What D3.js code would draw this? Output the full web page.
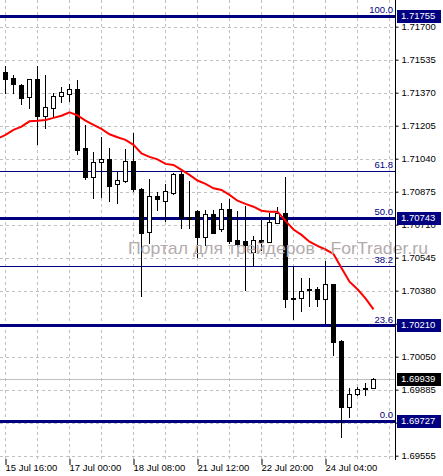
<!DOCTYPE html>
<html>
<head>
<meta charset="utf-8">
<script src="https://cdn.jsdelivr.net/npm/d3@7"></script>
<style>
  body { margin: 0; background: #fff; }
  svg { display: block; }
</style>
</head>
<body>
<script>
// donnees (H4)
var opens  = [1.71472, 1.71444, 1.71409, 1.71350, 1.71439, 1.71255, 1.71295, 1.71355, 1.71365, 1.71389,
              1.71092, 1.70950, 1.71022, 1.71037, 1.70912, 1.70930, 1.71029, 1.70889, 1.70672, 1.70854,
              1.70830, 1.70867, 1.70964, 1.70749, 1.70779, 1.70649, 1.70762, 1.70689, 1.70787, 1.70634,
              1.70626, 1.70576, 1.70634, 1.70625, 1.70720, 1.70770, 1.70345, 1.70342, 1.70389, 1.70389,
              1.70337, 1.70412, 1.70127, 1.69800, 1.69864, 1.69894, 1.69892];
var highs  = [1.71504, 1.71459, 1.71414, 1.71439, 1.71504, 1.71459, 1.71367, 1.71397, 1.71412, 1.71434,
              1.71209, 1.71072, 1.71147, 1.71092, 1.70980, 1.71087, 1.71170, 1.70895, 1.70937, 1.70875,
              1.70914, 1.70970, 1.70972, 1.70930, 1.70784, 1.70784, 1.70784, 1.70817, 1.70837, 1.70779,
              1.70804, 1.70654, 1.70734, 1.70769, 1.70797, 1.70950, 1.70504, 1.70442, 1.70442, 1.70399,
              1.70530, 1.70414, 1.70134, 1.69892, 1.69900, 1.69917, 1.69942];
var lows   = [1.71370, 1.71370, 1.71314, 1.71295, 1.71112, 1.71195, 1.71250, 1.71325, 1.71329, 1.71065,
              1.70939, 1.70845, 1.70850, 1.70830, 1.70820, 1.70924, 1.70880, 1.70355, 1.70620, 1.70784,
              1.70729, 1.70864, 1.70692, 1.70694, 1.70549, 1.70609, 1.70669, 1.70681, 1.70620, 1.70606,
              1.70384, 1.70509, 1.70584, 1.70622, 1.70717, 1.70300, 1.70239, 1.70279, 1.70304, 1.70304,
              1.70214, 1.70057, 1.69650, 1.69750, 1.69859, 1.69859, 1.69892];
var closes = [1.71440, 1.71414, 1.71345, 1.71436, 1.71255, 1.71297, 1.71355, 1.71372, 1.71389, 1.71085,
              1.70950, 1.71022, 1.71040, 1.70905, 1.70932, 1.71027, 1.70889, 1.70670, 1.70854, 1.70839,
              1.70877, 1.70964, 1.70742, 1.70739, 1.70649, 1.70762, 1.70671, 1.70787, 1.70629, 1.70611,
              1.70609, 1.70631, 1.70621, 1.70725, 1.70770, 1.70337, 1.70337, 1.70380, 1.70384, 1.70337,
              1.70412, 1.70125, 1.69800, 1.69862, 1.69889, 1.69889, 1.69939];

// moyenne mobile (commence une bougie avant l'ecran)
var maValues = [1.71140, 1.71159, 1.71184, 1.71200, 1.71227, 1.71230, 1.71234, 1.71244, 1.71255, 1.71272,
                1.71257, 1.71230, 1.71209, 1.71189, 1.71162, 1.71147, 1.71134, 1.71109, 1.71066, 1.71049,
                1.71037, 1.71014, 1.71009, 1.70984, 1.70959, 1.70931, 1.70914, 1.70892, 1.70884, 1.70859,
                1.70830, 1.70814, 1.70800, 1.70780, 1.70775, 1.70775, 1.70729, 1.70686, 1.70659, 1.70625,
                1.70604, 1.70586, 1.70564, 1.70494, 1.70425, 1.70387, 1.70342, 1.70287];

var priceTicks = [1.71700, 1.71535, 1.71370, 1.71205, 1.71040, 1.70875, 1.70710,
                  1.70545, 1.70380, 1.70215, 1.70050, 1.69885, 1.69720, 1.69555];
var timeIdx = [0, 8, 16, 24, 32, 40];
var timeLabels = ["15 Jul 16:00", "17 Jul 00:00", "18 Jul 08:00", "21 Jul 12:00", "22 Jul 20:00", "24 Jul 04:00"];

var fibPrices = [1.71755, 1.70980, 1.70741, 1.70502, 1.70206, 1.69727];
var fibNames = ["100.0", "61.8", "50.0", "38.2", "23.6", "0.0"];
var thickLines = [1.71755, 1.70743, 1.70210, 1.69727];
var boxPrices = [1.71755, 1.70743, 1.70210, 1.69727, 1.69939];
var currentPrice = 1.69939;

var width = 443, height = 476;
var plotW = 395, plotH = 459;
var navy = "#000080";
var font = "'Liberation Sans', Arial, sans-serif";

var svg = d3.select("body").append("svg")
    .attr("width", width)
    .attr("height", height);

var x = d3.scaleLinear().domain([0, 46]).range([5, 373]);
var y = d3.scaleLinear().domain([1.69555, 1.71700]).range([455.7, 26.7]);

svg.append("clipPath").attr("id", "plot")
    .append("rect").attr("width", plotW).attr("height", plotH);

var plot = svg.append("g").attr("clip-path", "url(#plot)");

// grille
var gridIdx = d3.range(0, 49, 4);
plot.selectAll(".vgrid").data(gridIdx).enter().append("line")
    .attr("x1", function (d) { return x(d) + 0.5; })
    .attr("x2", function (d) { return x(d) + 0.5; })
    .attr("y1", 0).attr("y2", plotH)
    .attr("stroke", "#c0c0c0").attr("stroke-dasharray", "3,3");
plot.selectAll(".hgrid").data(priceTicks).enter().append("line")
    .attr("x1", 0).attr("x2", plotW)
    .attr("y1", function (d) { return Math.round(y(d)) + 0.5; })
    .attr("y2", function (d) { return Math.round(y(d)) + 0.5; })
    .attr("stroke", "#c0c0c0").attr("stroke-dasharray", "3,3");

// filigrane
svg.append("text")
    .attr("x", 128).attr("y", 254)
    .attr("font-family", font).attr("font-size", 17)
    .attr("textLength", 300).attr("lengthAdjust", "spacingAndGlyphs")
    .attr("fill", "#b4acac")
    .text("Портал для трейдеров - ForTrader.ru");

// ligne du prix courant
plot.append("line")
    .attr("x1", 0).attr("x2", plotW)
    .attr("y1", Math.round(y(currentPrice)) + 0.5)
    .attr("y2", Math.round(y(currentPrice)) + 0.5)
    .attr("stroke", "#c0c0c0");

// niveaux de Fibonacci
plot.selectAll(".fib").data(fibPrices).enter().append("line")
    .attr("x1", 0).attr("x2", plotW)
    .attr("y1", function (d) { return Math.round(y(d)) + 0.5; })
    .attr("y2", function (d) { return Math.round(y(d)) + 0.5; })
    .attr("stroke", navy).attr("stroke-width", 1);
plot.selectAll(".thick").data(thickLines).enter().append("line")
    .attr("x1", 0).attr("x2", plotW)
    .attr("y1", function (d) { return Math.round(y(d)) + 0.5; })
    .attr("y2", function (d) { return Math.round(y(d)) + 0.5; })
    .attr("stroke", navy).attr("stroke-width", 3);
plot.selectAll(".fibtxt").data(fibPrices).enter().append("text")
    .attr("x", 393)
    .attr("y", function (d) { return Math.round(y(d)) - 3; })
    .attr("text-anchor", "end")
    .attr("font-family", font).attr("font-size", 9.5)
    .attr("fill", navy)
    .text(function (d, i) { return fibNames[i]; });

// bougies
var idx = d3.range(opens.length);
plot.selectAll(".wick").data(idx).enter().append("line")
    .attr("x1", function (i) { return x(i) + 0.5; })
    .attr("x2", function (i) { return x(i) + 0.5; })
    .attr("y1", function (i) { return Math.round(y(highs[i])); })
    .attr("y2", function (i) { return Math.round(y(lows[i])) + 1; })
    .attr("stroke", "#000");
plot.selectAll(".body").data(idx).enter().append("rect")
    .attr("x", function (i) { return x(i) - 1.5; })
    .attr("y", function (i) { return Math.round(y(Math.max(opens[i], closes[i]))) + 0.5; })
    .attr("width", 4)
    .attr("height", function (i) {
        return Math.max(1, Math.round(y(Math.min(opens[i], closes[i]))) - Math.round(y(Math.max(opens[i], closes[i]))));
    })
    .attr("fill", function (i) { return closes[i] >= opens[i] ? "#fff" : "#000"; })
    .attr("stroke", "#000");

// moyenne mobile
var maLine = d3.line()
    .x(function (d, i) { return x(i - 1) + 0.5; })
    .y(function (d) { return y(d); });
plot.append("path").datum(maValues)
    .attr("d", maLine)
    .attr("fill", "none")
    .attr("stroke", "#ff0000")
    .attr("stroke-width", 2);

// axe des prix
svg.append("line")
    .attr("x1", plotW + 0.5).attr("x2", plotW + 0.5)
    .attr("y1", 0).attr("y2", plotH + 1)
    .attr("stroke", "#000");
var yAxis = d3.axisRight(y)
    .tickValues(priceTicks)
    .tickFormat(function (d) {
        // etiquette cachee sous une boite de prix
        var hidden = boxPrices.some(function (b) { return Math.abs(y(b) - y(d)) < 4; });
        return hidden ? "" : d3.format(".5f")(d);
    })
    .tickSize(3)
    .tickPadding(3);
var gy = svg.append("g")
    .attr("transform", "translate(" + (plotW + 0.5) + ",0)")
    .call(yAxis);
gy.select(".domain").remove();
gy.selectAll("text").attr("font-family", font).attr("font-size", 9.5).attr("fill", "#000");
gy.selectAll("line").attr("stroke", "#000");

// etiquettes en couleur
var boxes = svg.selectAll(".box").data(boxPrices).enter().append("g")
    .attr("transform", function (d) { return "translate(397," + Math.round(y(d)) + ")"; });
boxes.append("rect")
    .attr("x", 0).attr("y", -6).attr("width", 44).attr("height", 13)
    .attr("fill", function (d) { return d === currentPrice ? "#000" : navy; });
boxes.append("text")
    .attr("x", 4).attr("y", 0).attr("dy", "0.35em")
    .attr("font-family", font).attr("font-size", 9.5)
    .attr("fill", "#fff")
    .text(function (d) { return d3.format(".5f")(d); });

// axe du temps
var xAxis = d3.axisBottom(x)
    .tickValues(timeIdx)
    .tickFormat(function (d, i) { return timeLabels[i]; })
    .tickSize(6);
var gx = svg.append("g")
    .attr("transform", "translate(0.5," + plotH + ")")
    .call(xAxis);
gx.select(".domain").remove();
gx.selectAll("line").attr("stroke", "#000");
gx.selectAll("text")
    .attr("text-anchor", "start")
    .attr("x", -0.5).attr("y", 12).attr("dy", 0)
    .attr("font-family", font).attr("font-size", 9.5)
    .attr("fill", "#000");
</script>
</body>
</html>
